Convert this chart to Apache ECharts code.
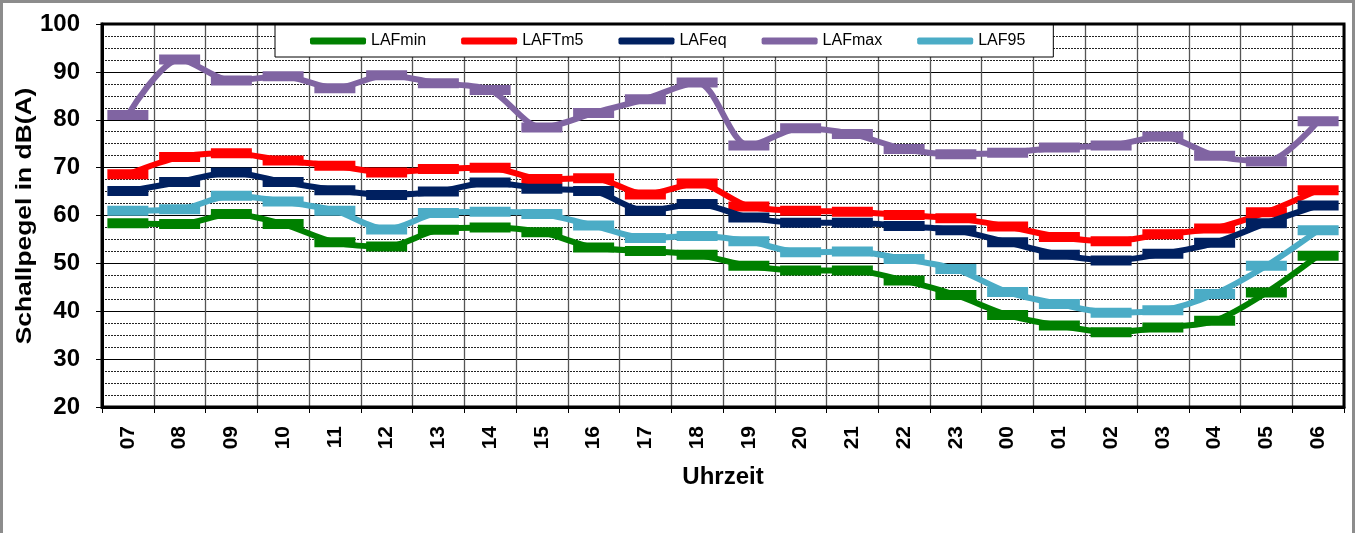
<!DOCTYPE html>
<html>
<head>
<meta charset="utf-8">
<script src="https://cdn.jsdelivr.net/npm/echarts@6/dist/echarts.min.js"></script>
<style>
  html, body { margin: 0; padding: 0; background: #fff; }
  #wrap { position: relative; width: 1357px; height: 533px; overflow: hidden; }
  #chart { width: 1357px; height: 533px; }
  #frame { position: absolute; left: 0; top: 0; width: 1355px; height: 560px; box-sizing: border-box;
           border: 3px solid #8c8c8c; pointer-events: none; }
</style>
</head>
<body>
<div id="wrap">
  <div id="chart"></div>
  <div id="frame"></div>
</div>
<script>
const hours = ['07', '08', '09', '10', '11', '12', '13', '14', '15', '16', '17', '18',
  '19', '20', '21', '22', '23', '00', '01', '02', '03', '04', '05', '06'];

const lafMin = [58.4, 58.2, 60.3, 58.2, 54.4, 53.5, 57.0, 57.5, 56.5, 53.3, 52.6, 51.8,
  49.5, 48.5, 48.5, 46.4, 43.4, 39.2, 37.0, 35.6, 36.6, 38.0, 43.9, 51.6];
const lafTm5 = [68.6, 72.2, 73.0, 71.5, 70.4, 69.0, 69.7, 70.0, 67.6, 67.8, 64.4, 66.7,
  61.9, 61.0, 60.8, 60.1, 59.4, 57.7, 55.5, 54.6, 56.1, 57.3, 60.7, 65.3];
const lafEq = [65.1, 67.0, 69.0, 67.0, 65.3, 64.3, 65.0, 66.9, 65.6, 65.1, 61.0, 62.4,
  59.6, 58.5, 58.5, 57.8, 56.9, 54.4, 51.8, 50.6, 52.0, 54.3, 58.4, 62.1];
const lafMax = [81.0, 92.6, 88.2, 89.1, 86.6, 89.3, 87.6, 86.2, 78.4, 81.4, 84.3, 87.8,
  74.6, 78.2, 77.0, 73.9, 72.8, 73.1, 74.2, 74.6, 76.5, 72.5, 71.3, 79.7];
const laf95 = [61.0, 61.3, 64.1, 62.9, 61.0, 57.1, 60.5, 60.8, 60.3, 57.9, 55.3, 55.7,
  54.6, 52.3, 52.5, 50.9, 48.8, 44.0, 41.5, 39.7, 40.2, 43.6, 49.5, 56.9];

const seriesNames = ['LAFmin', 'LAFTm5', 'LAFeq', 'LAFmax', 'LAF95'];
const seriesColors = ['#008000', '#ff0000', '#002060', '#8064a2', '#4bacc6'];
const seriesData = [lafMin, lafTm5, lafEq, lafMax, laf95];

const chart = echarts.init(document.getElementById('chart'));
const font = 'Liberation Sans, Arial, sans-serif';

const option = {
  animation: false,
  textStyle: { fontFamily: font },
  legend: {
    top: 25,
    left: 275,
    itemGap: 35,
    itemWidth: 56,
    itemHeight: 7,
    padding: [8, 28, 8, 35],
    borderColor: '#000',
    borderWidth: 1,
    backgroundColor: '#fff',
    textStyle: { fontSize: 16, color: '#000', fontFamily: font },
    data: seriesNames.map((n, i) => ({
      name: n,
      icon: 'roundRect',
      itemStyle: { color: seriesColors[i] }
    }))
  },
  grid: { left: 102, right: 13, top: 24, bottom: 126 },
  xAxis: {
    type: 'category',
    data: hours,
    boundaryGap: true,
    axisLine: { lineStyle: { color: '#000', width: 3 } },
    axisTick: { show: true, length: 6, lineStyle: { color: '#000' } },
    axisLabel: { rotate: 90, fontSize: 21, fontWeight: 'bold', color: '#000', margin: 19, interval: 0 },
    splitLine: { show: true, interval: 0, lineStyle: { color: '#555', width: 1.3 } },
    name: 'Uhrzeit',
    nameLocation: 'middle',
    nameGap: 58,
    nameTextStyle: { fontSize: 24, fontWeight: 'bold', color: '#000' }
  },
  yAxis: {
    type: 'value',
    min: 20,
    max: 100,
    interval: 10,
    axisLine: { show: true, lineStyle: { color: '#000', width: 3 } },
    axisTick: { show: true, length: 6, lineStyle: { color: '#000' } },
    axisLabel: { fontSize: 24, fontWeight: 'bold', color: '#000', margin: 22 },
    splitLine: { show: true, lineStyle: { color: '#000', width: 1 } },
    minorTick: { show: false, splitNumber: 4 },
    minorSplitLine: { show: true, lineStyle: { color: '#222', width: 1, type: [2, 1] } }
  },
  series: seriesNames.map((n, i) => ({
    name: n,
    type: 'line',
    data: seriesData[i],
    smooth: 0.3,
    symbol: 'rect',
    symbolSize: [41, 10],
    lineStyle: { color: seriesColors[i], width: 6 },
    itemStyle: { color: seriesColors[i] },
    z: 3 + i
  })),
  graphic: [
    {
      type: 'rect',
      shape: { x: 102, y: 24, width: 1242, height: 383 },
      style: { fill: 'none', stroke: '#000', lineWidth: 3 },
      silent: true,
      z: 1
    },
    {
      type: 'text',
      x: 25,
      y: 216,
      rotation: Math.PI / 2,
      scaleX: 1.2,
      style: {
        text: 'Schallpegel in dB(A)',
        font: 'bold 22px ' + font,
        fill: '#000',
        align: 'center',
        verticalAlign: 'middle'
      },
      silent: true
    }
  ]
};

chart.setOption(option);
</script>
</body>
</html>
